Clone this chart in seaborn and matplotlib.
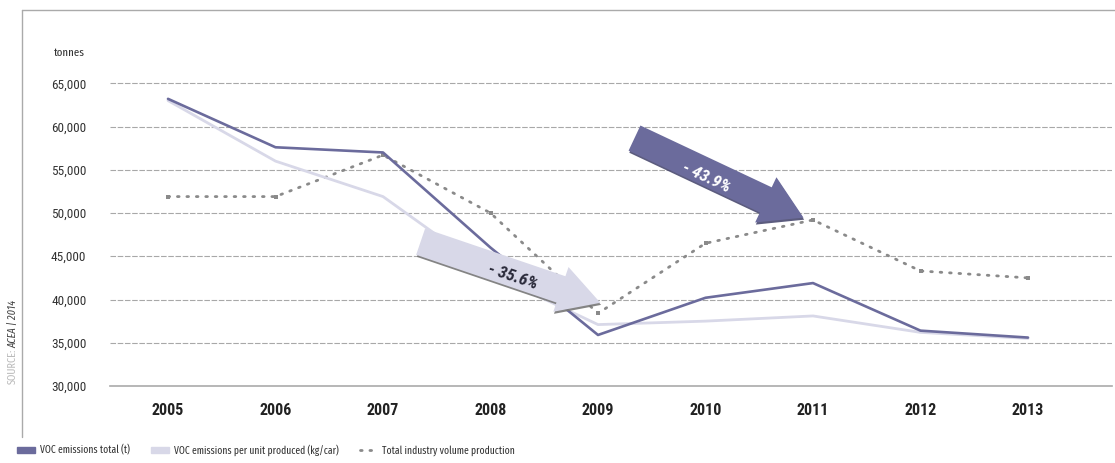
import matplotlib
matplotlib.use("Agg")
import matplotlib.pyplot as plt
import matplotlib.patheffects as pe
from matplotlib.patches import FancyArrowPatch, Rectangle
from matplotlib.lines import Line2D
import seaborn as sns
import pandas as pd

years = [2005, 2006, 2007, 2008, 2009, 2010, 2011, 2012, 2013]
voc_total = [63200, 57600, 57000, 46000, 35900, 40200, 41900, 36400, 35600]
voc_per_unit = [63000, 56000, 51900, 43000, 37100, 37500, 38100, 36200, 35500]
production = [51900, 51900, 56700, 50000, 38400, 46500, 49200, 43300, 42500]
ytick_vals = [30000, 35000, 40000, 45000, 50000, 55000, 60000, 65000]
legend_labels = ["VOC emissions total (t)", "VOC emissions per unit produced (kg/car)",
                 "Total industry volume production"]

sns.set_theme(style="white")
plt.rcParams['font.family'] = ['Roboto Condensed', 'DejaVu Sans']
NARROW = ['Fira Sans Extra Condensed', 'Roboto Condensed', 'DejaVu Sans']

DARK = "#6b6b9c"
LIGHT = "#d8d8e8"
DOT = "#8a8a8a"

W, H = 1115, 463
fig = plt.figure(figsize=(W / 100, H / 100), dpi=100)
ax = fig.add_axes([110 / W, 1 - 386 / H, (1112 - 110) / W, (386 - 60) / H])

df = pd.DataFrame({"year": years, "total": voc_total, "unit": voc_per_unit, "prod": production})
sns.lineplot(data=df, x="year", y="prod", ax=ax, color=DOT, lw=2.0,
             linestyle=(0, (0.6, 2.8)), marker="s", markersize=3.2, markeredgewidth=0,
             dash_capstyle="round", zorder=2)
sns.lineplot(data=df, x="year", y="unit", ax=ax, color=LIGHT, lw=2.0, zorder=3)
sns.lineplot(data=df, x="year", y="total", ax=ax, color=DARK, lw=1.9, zorder=4)

ax.set_xlim(2005 - 58 / 107.5, 2013 + 84 / 107.5)
ax.set_ylim(30000, 65000 + (83.3 - 60) / 43.3 * 5000)
ax.set_xticks(years)
ax.set_xticklabels([str(y) for y in years], fontsize=11.5, fontweight="bold", color="#222222")
ax.set_yticks(ytick_vals)
ax.set_yticklabels([f"{v:,}" for v in ytick_vals], fontsize=9.5, color="#333333")
ax.tick_params(axis="x", length=0, pad=12)
ax.tick_params(axis="y", length=0, pad=17)
ax.set_xlabel("")
ax.set_ylabel("")
for v in ytick_vals[1:]:
    ax.axhline(v, color="#a8a8a8", lw=0.8, ls=(0, (5, 1.5)), zorder=1)
for s in ["top", "right", "left"]:
    ax.spines[s].set_visible(False)
ax.spines["bottom"].set_color("#aaaaaa")
ax.spines["bottom"].set_linewidth(1.2)


def px2data(px, py):
    return (2005 + (px - 168) / 107.5, 65000 - (py - 83.3) / 43.3 * 5000)


# light arrow (-35.6%)
a1 = FancyArrowPatch(px2data(418, 241), px2data(603, 304),
                     arrowstyle="simple,head_width=34,head_length=30,tail_width=20",
                     mutation_scale=1, color=LIGHT, zorder=5, lw=0,
                     path_effects=[pe.SimplePatchShadow(offset=(0.5, -1.5), shadow_rgbFace="#777777", alpha=0.9),
                                   pe.Normal()])
ax.add_patch(a1)
ax.text(*px2data(513, 277), "- 35.6%", rotation=-18.5, fontsize=12.5, fontweight="bold",
        style="italic", color="#2a2a3a", ha="center", va="center", zorder=6)

# dark arrow (-43.9%)
a2 = FancyArrowPatch(px2data(632, 137), px2data(806, 219),
                     arrowstyle="simple,head_width=36,head_length=30,tail_width=20",
                     mutation_scale=1, color=DARK, zorder=5, lw=0,
                     path_effects=[pe.SimplePatchShadow(offset=(0.5, -1.5), shadow_rgbFace="#4a4a70", alpha=0.9),
                                   pe.Normal()])
ax.add_patch(a2)
ax.text(*px2data(706, 178), "- 43.9%", rotation=-25, fontsize=12.5, fontweight="bold",
        style="italic", color="white", ha="center", va="center", zorder=6)

# unit label
fig.text(54 / W, 1 - 53 / H, "tonnes", fontsize=8.5, color="#333333", ha="left", va="center",
         family=NARROW)

# frame lines
fig.add_artist(Line2D([22 / W, 22 / W], [1 - 10 / H, 1 - 437 / H], color="#aaaaaa", lw=1.0))
fig.add_artist(Line2D([22 / W, 1.0], [1 - 10 / H, 1 - 10 / H], color="#aaaaaa", lw=1.0))

# source
fig.text(13 / W, 1 - 384 / H, "SOURCE:", rotation=90, fontsize=8, color="#bbbbbb",
         ha="center", va="bottom", family=NARROW)
fig.text(13 / W, 1 - 348 / H, "ACEA | 2014", rotation=90, fontsize=8, color="#444444",
         ha="center", va="bottom", style="italic", family=NARROW)

# legend
handles = [Rectangle((0, 0), 1, 1, color=DARK),
           Rectangle((0, 0), 1, 1, color=LIGHT),
           Line2D([0], [0], color=DOT, lw=2, linestyle=(0, (0.6, 2.8)), dash_capstyle="round")]
leg = fig.legend(handles, legend_labels, loc="center left", bbox_to_anchor=(8 / W, 1 - 450 / H),
                 ncol=3, frameon=False, handlelength=1.7, handleheight=0.45,
                 handletextpad=0.5, columnspacing=2.0, labelcolor="#333333",
                 prop={"family": NARROW, "size": 7.5})

fig.savefig("out.png", dpi=100)
